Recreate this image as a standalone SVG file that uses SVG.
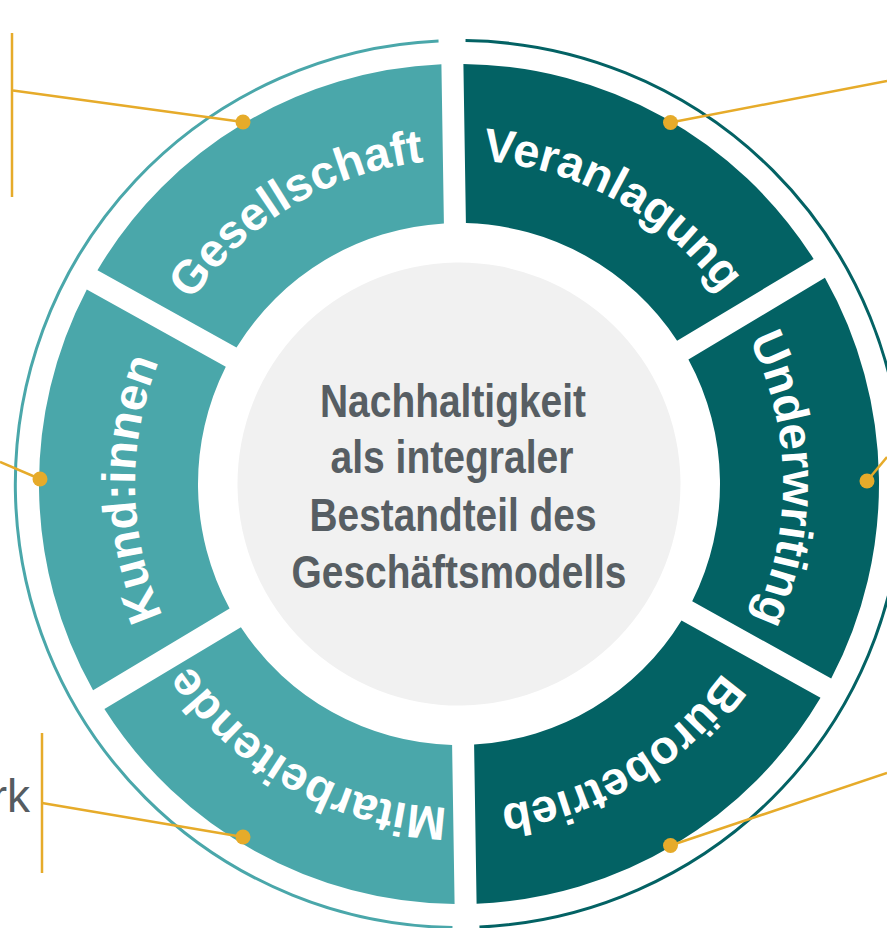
<svg xmlns="http://www.w3.org/2000/svg" xmlns:xlink="http://www.w3.org/1999/xlink" width="887" height="928" viewBox="0 0 887 928">
<style>
.light{fill:#4aa7aa}
.dark{fill:#036264}
.lbl{font-family:"Liberation Sans",Arial,sans-serif;font-weight:bold;font-size:47px;fill:#ffffff}
.ctr{font-family:"Liberation Sans Narrow","Liberation Sans",Arial,sans-serif;font-weight:bold;font-size:46px;fill:#575e63;text-anchor:middle}
.conn{stroke:#e6ab2a;stroke-width:2.5;fill:none}
.dot{fill:#e6ab2a}
</style>
<defs>
<path id="seg" d="M 11 -419.86 A 420 420 0 0 1 358.11 -219.45 L 220.33 -139.91 A 261 261 0 0 0 11 -260.77 Z"/>
<path id="arc" d="M 0 -324 A 324 324 0 0 1 280.59 -162"/>
</defs>
<rect width="887" height="928" fill="#ffffff"/>
<g id="wheel" transform="translate(459,484) rotate(-0.9)">
  <g id="ring">
    <path d="M -13.5 443.3 A 443.5 443.5 0 0 1 -13.5 -443.3" stroke="#4aa7aa" stroke-width="3" fill="none"/>
    <path d="M 13.5 -443.3 A 443.5 443.5 0 0 1 13.5 443.3" stroke="#036264" stroke-width="3" fill="none"/>
  </g>
  <g id="center">
    <circle cx="0" cy="0" r="221.5" fill="#f1f1f1"/>
  </g>
  <g id="veranlagung" transform="rotate(0)">
    <use xlink:href="#seg" href="#seg" class="dark"/>
    <text class="lbl"><textPath xlink:href="#arc" href="#arc" startOffset="50%" text-anchor="middle">Veranlagung</textPath></text>
  </g>
  <g id="underwriting" transform="rotate(60)">
    <use xlink:href="#seg" href="#seg" class="dark"/>
    <text class="lbl"><textPath xlink:href="#arc" href="#arc" startOffset="50%" text-anchor="middle">Underwriting</textPath></text>
  </g>
  <g id="buerobetrieb" transform="rotate(120)">
    <use xlink:href="#seg" href="#seg" class="dark"/>
    <text class="lbl"><textPath xlink:href="#arc" href="#arc" startOffset="50%" text-anchor="middle">Bürobetrieb</textPath></text>
  </g>
  <g id="mitarbeitende" transform="rotate(180)">
    <use xlink:href="#seg" href="#seg" class="light"/>
    <text class="lbl"><textPath xlink:href="#arc" href="#arc" startOffset="50%" text-anchor="middle">Mitarbeitende</textPath></text>
  </g>
  <g id="kundinnen" transform="rotate(240)">
    <use xlink:href="#seg" href="#seg" class="light"/>
    <text class="lbl"><textPath xlink:href="#arc" href="#arc" startOffset="50%" text-anchor="middle">Kund:innen</textPath></text>
  </g>
  <g id="gesellschaft" transform="rotate(300)">
    <use xlink:href="#seg" href="#seg" class="light"/>
    <text class="lbl"><textPath xlink:href="#arc" href="#arc" startOffset="50%" text-anchor="middle">Gesellschaft</textPath></text>
  </g>
</g>
<g id="center-text">
  <text class="ctr" x="453" y="416.5" textLength="266" lengthAdjust="spacingAndGlyphs">Nachhaltigkeit</text>
  <text class="ctr" x="452" y="472.5" textLength="243" lengthAdjust="spacingAndGlyphs">als integraler</text>
  <text class="ctr" x="453" y="531" textLength="287" lengthAdjust="spacingAndGlyphs">Bestandteil des</text>
  <text class="ctr" x="459" y="587.5" textLength="335" lengthAdjust="spacingAndGlyphs">Geschäftsmodells</text>
</g>
<g id="side-text">
  <text x="30" y="812" font-family="'Liberation Sans',Arial,sans-serif" font-size="46" fill="#555c61" text-anchor="end">rk</text>
</g>
<g id="connectors">
  <line class="conn" x1="12" y1="33" x2="12" y2="197"/>
  <line class="conn" x1="13" y1="90.5" x2="243" y2="122"/>
  <circle class="dot" cx="243" cy="122" r="7.5"/>
  <line class="conn" x1="670.5" y1="122.5" x2="887" y2="81"/>
  <circle class="dot" cx="670.5" cy="122.5" r="7.5"/>
  <line class="conn" x1="867" y1="481" x2="887" y2="457"/>
  <circle class="dot" cx="867" cy="481" r="7.5"/>
  <line class="conn" x1="670.5" y1="845.5" x2="887" y2="773"/>
  <circle class="dot" cx="670.5" cy="845.5" r="7.5"/>
  <line class="conn" x1="42" y1="733" x2="42" y2="873"/>
  <line class="conn" x1="42" y1="803" x2="243" y2="837"/>
  <circle class="dot" cx="243" cy="837" r="7.5"/>
  <line class="conn" x1="0" y1="462" x2="40" y2="479"/>
  <circle class="dot" cx="40" cy="479" r="7.5"/>
</g>
</svg>
